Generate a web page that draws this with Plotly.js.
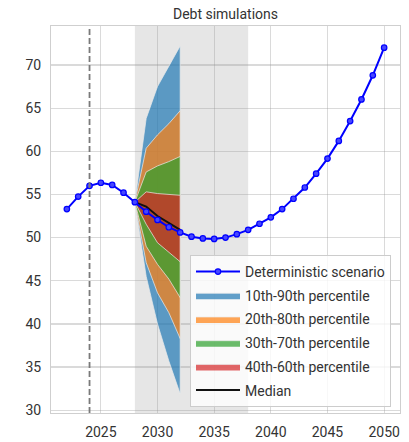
<!DOCTYPE html>
<html>
<head>
<meta charset="utf-8">
<script src="https://cdn.plot.ly/plotly-3.0.1.min.js"></script>
<style>
  html, body { margin: 0; padding: 0; background: #ffffff; }
  #chart { width: 409px; height: 442px; }
</style>
</head>
<body>
<div id="chart"></div>
<script>
// ---- data ----
const years = [2022, 2023, 2024, 2025, 2026, 2027, 2028, 2029, 2030, 2031, 2032, 2033, 2034, 2035, 2036,
               2037, 2038, 2039, 2040, 2041, 2042, 2043, 2044, 2045, 2046, 2047, 2048, 2049, 2050];
const deterministic = [53.3, 54.75, 56.0, 56.35, 56.1, 55.2, 54.1, 53.0, 52.05, 51.2, 50.6, 50.1, 49.9, 49.85, 50.0,
                       50.4, 50.9, 51.6, 52.35, 53.3, 54.5, 55.8, 57.4, 59.15, 61.2, 63.5, 66.0, 68.8, 72.0];

const fanYears = [2028, 2029, 2030, 2031, 2032];
const p10 = [54.1, 45.5, 40.0, 35.7, 31.9];
const p20 = [54.1, 47.1, 43.6, 41.3, 38.3];
const p30 = [54.1, 49.0, 46.9, 45.2, 43.05];
const p40 = [54.1, 51.55, 49.4, 48.26, 47.2];
const p50 = [54.1, 53.6, 52.5, 51.65, 50.9];
const p60 = [54.1, 55.3, 55.1, 55.0, 54.9];
const p70 = [54.1, 57.6, 58.3, 58.8, 59.4];
const p80 = [54.1, 60.35, 61.9, 63.2, 64.7];
const p90 = [54.1, 63.8, 67.5, 69.9, 72.2];

const bandNames = ['10th-90th percentile', '20th-80th percentile', '30th-70th percentile', '40th-60th percentile'];
const bandColors = ['rgba(31,119,180,0.7)', 'rgba(255,127,14,0.7)', 'rgba(44,160,44,0.7)', 'rgba(214,39,40,0.7)'];
const bandLower = [p10, p20, p30, p40];
const bandUpper = [p90, p80, p70, p60];

const yTicks = [30, 35, 40, 45, 50, 55, 60, 65, 70];
const xTicks = [2025, 2030, 2035, 2040, 2045, 2050];

const spanStart = 2028, spanEnd = 2038, markerYear = 2024;

// ---- traces ----
const traces = [];
bandNames.forEach((name, i) => {
  const xs = fanYears.concat(fanYears.slice().reverse());
  const ys = bandUpper[i].concat(bandLower[i].slice().reverse());
  traces.push({
    x: xs, y: ys, type: 'scatter', mode: 'lines', fill: 'toself',
    fillcolor: bandColors[i],
    line: { color: 'rgba(235,235,235,0.7)', width: 1 },
    name: name, legendrank: i + 2, legendgroup: 'g' + (i + 2),
    hoverinfo: 'skip'
  });
});
traces.push({
  x: fanYears, y: p50, type: 'scatter', mode: 'lines',
  line: { color: '#111111', width: 2 },
  name: 'Median', legendrank: 6, legendgroup: 'g6'
});
traces.push({
  x: years, y: deterministic, type: 'scatter', mode: 'lines+markers',
  line: { color: '#0000ff', width: 2 },
  marker: { symbol: 'circle', size: 5.5, color: 'rgba(70,70,255,1)', line: { color: '#0000ff', width: 1.2 } },
  name: 'Deterministic scenario', legendrank: 1, legendgroup: 'g1'
});

const font = 'Roboto, "DejaVu Sans", sans-serif';

const layout = {
  width: 409, height: 442,
  margin: { l: 51, r: 9, t: 26, b: 29, pad: 0 },
  paper_bgcolor: '#ffffff', plot_bgcolor: '#ffffff',
  font: { family: font, size: 14, color: '#333333' },
  title: {
    text: 'Debt simulations', font: { family: font, size: 14, color: '#333333' },
    x: 0.5, xref: 'paper', xanchor: 'center', y: 1 - 14 / 442, yref: 'container', yanchor: 'middle'
  },
  xaxis: {
    range: [2020.6, 2051.4], tickvals: xTicks, ticktext: xTicks.map(String),
    showgrid: true, gridcolor: 'rgba(150,150,150,0.35)', gridwidth: 1.2,
    zeroline: false, showline: true, mirror: true, linecolor: '#cfcfcf', linewidth: 1,
    ticks: '', ticklabelstandoff: 6,
    tickfont: { family: font, size: 14, color: '#333333' }
  },
  yaxis: {
    range: [29.68, 74.51], tickvals: yTicks, ticktext: yTicks.map(String),
    showgrid: true, gridcolor: 'rgba(150,150,150,0.35)', gridwidth: 1.2,
    zeroline: false, showline: true, mirror: true, linecolor: '#cfcfcf', linewidth: 1,
    ticks: '', ticklabelstandoff: 6,
    tickfont: { family: font, size: 14, color: '#333333' }
  },
  shapes: [
    { type: 'rect', xref: 'x', yref: 'paper', x0: spanStart, x1: spanEnd, y0: 0, y1: 1,
      fillcolor: 'rgba(128,128,128,0.2)', line: { width: 0 }, layer: 'below' },
    { type: 'line', xref: 'x', yref: 'paper', x0: markerYear, x1: markerYear, y0: 0, y1: 1,
      line: { color: '#7a7a7a', width: 1.8, dash: '6px,3px' }, layer: 'above' }
  ],
  showlegend: true,
  legend: {
    x: (190 - 51) / 349, y: (413 - 255) / 387, xanchor: 'left', yanchor: 'top',
    bgcolor: 'rgba(255,255,255,0.8)', bordercolor: '#cccccc', borderwidth: 1,
    font: { family: font, size: 14, color: '#333333' },
    traceorder: 'grouped', tracegroupgap: 2.5, itemwidth: 44
  }
};

Plotly.newPlot('chart', traces, layout, { displayModeBar: false, staticPlot: true });
</script>
</body>
</html>
